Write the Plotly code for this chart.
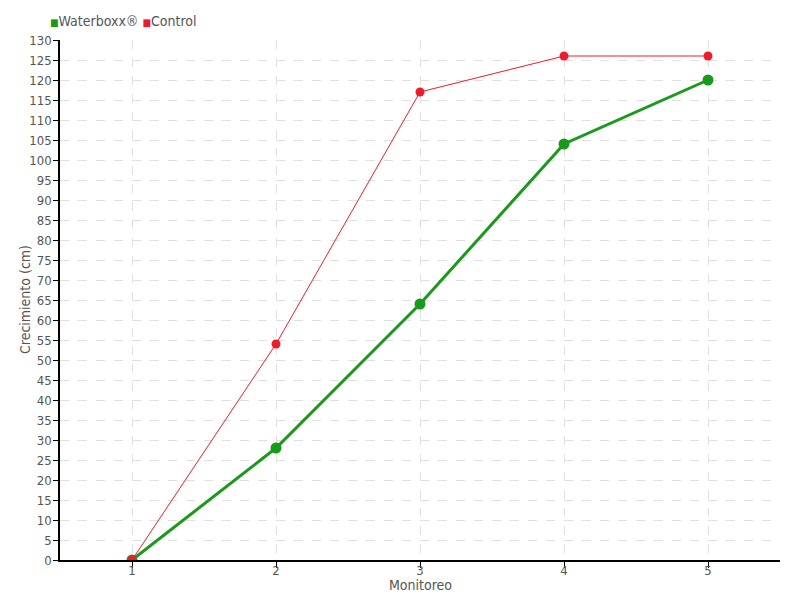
import plotly.graph_objects as go

monitoreo = [1, 2, 3, 4, 5]
waterboxx = [0, 28, 64, 104, 120]
control = [0, 54, 117, 126, 126]
y_ticks = list(range(0, 131, 5))

FONT = "DejaVu Sans Condensed, DejaVu Sans, sans-serif"
GREEN = "#1a9a1a"
RED = "#ee1c2a"
TXT = "#555555"

fig = go.Figure()
fig.add_trace(go.Scatter(x=monitoreo, y=waterboxx, mode="lines+markers", name="Waterboxx®",
                         line=dict(color=GREEN, width=3), marker=dict(color=GREEN, size=11),
                         showlegend=False))
fig.add_trace(go.Scatter(x=monitoreo, y=control, mode="lines+markers", name="Control",
                         line=dict(color=RED, width=1), marker=dict(color=RED, size=9),
                         showlegend=False))

# legend as text
fig.add_annotation(
    xref="paper", yref="paper", x=0, y=1.0, xanchor="left", yanchor="bottom",
    xshift=-12, yshift=9, showarrow=False,
    text=(f'<span style="color:{GREEN};font-size:10px">■</span>Waterboxx® '
          f'<span style="color:{RED};font-size:10px">■</span>Control'),
    font=dict(size=14, color=TXT),
)
# axis titles
fig.add_annotation(
    xref="paper", yref="paper", x=0.5, y=0, xanchor="center", yanchor="middle",
    yshift=-25, showarrow=False, text="Monitoreo",
    font=dict(size=14, color=TXT),
)
fig.add_annotation(
    xref="paper", yref="paper", x=0, y=0.5, xanchor="center", yanchor="middle",
    xshift=-35, showarrow=False, text="Crecimiento (cm)", textangle=-90,
    font=dict(size=14, color=TXT),
)

# page body has an 8px margin: shift the figure so the plot area lands at (60,40)-(780,560)
fig.update_layout(
    width=792, height=592,
    margin=dict(l=52, r=20, t=32, b=40, autoexpand=False),
    paper_bgcolor="white", plot_bgcolor="white",
    font=dict(family=FONT, color=TXT, size=14),
    showlegend=False,
)
fig.update_xaxes(
    range=[0.5, 5.5], tickvals=monitoreo, ticktext=[str(v) for v in monitoreo],
    showgrid=True, gridcolor="#e0e0e0", griddash="dash",
    showline=True, linecolor="black", linewidth=1.5,
    ticks="outside", ticklen=6, tickcolor="black", zeroline=False,
    tickfont=dict(size=13), automargin=False, ticklabelstandoff=-8,
)
fig.update_yaxes(
    range=[0, 130], tickvals=y_ticks,
    showgrid=True, gridcolor="#e0e0e0", griddash="dash",
    showline=True, linecolor="black", linewidth=1.5,
    ticks="outside", ticklen=5, tickcolor="black", zeroline=False,
    tickfont=dict(size=13), automargin=False, ticklabelstandoff=-1,
)

fig.write_html("out.html")
